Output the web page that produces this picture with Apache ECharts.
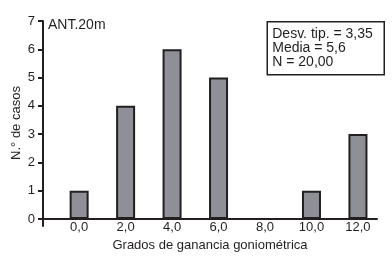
<!DOCTYPE html>
<html><head><meta charset="utf-8">
<script src="https://cdn.jsdelivr.net/npm/echarts@6/dist/echarts.min.js"></script>
<style>html,body{margin:0;padding:0;background:#fff}#c{width:392px;height:257px}</style>
</head><body><div id="c"></div>
<script>
const categories = [0, 2, 4, 6, 8, 10, 12];
const counts = [1, 4, 6, 5, 0, 1, 3];
const yTicks = [0, 1, 2, 3, 4, 5, 6, 7];
const statsLines = ['Desv. tip. = 3,35', 'Media = 5,6', 'N = 20,00'];
const panelTitle = 'ANT.20m';
const yName = 'N.° de casos';

const FONT = '"Liberation Sans", Arial, sans-serif';
const chart = echarts.init(document.getElementById('c'), null, {renderer: 'canvas'});
chart.setOption({
  animation: false,
  grid: {left: 43, right: 15, top: 21, bottom: 31, containLabel: false, outerBoundsMode: 'none'},
  xAxis: {
    type: 'value', min: -1.555, max: 12.82,
    splitLine: {show: false},
    axisLine: {onZero: true, lineStyle: {color: '#231f20', width: 2}},
    axisTick: {show: false},
    axisLabel: {customValues: categories, color: '#231f20', fontFamily: FONT, fontSize: 13, margin: -5,
      formatter: v => v.toFixed(1).replace('.', ',')},
    name: 'Grados de ganancia goniométrica', nameLocation: 'middle', nameGap: 13,
    nameTextStyle: {color: '#231f20', fontFamily: FONT, fontSize: 13}
  },
  yAxis: {
    type: 'value', min: -0.25, max: 7,
    splitLine: {show: false},
    axisLine: {show: true, onZero: false, lineStyle: {color: '#231f20', width: 2}},
    axisTick: {show: true, customValues: yTicks, length: 5, lineStyle: {color: '#231f20', width: 2}},
    axisLabel: {customValues: yTicks, color: '#231f20', fontFamily: FONT, fontSize: 13, margin: 8}
  },
  series: [{
    type: 'bar', barWidth: 19,
    data: categories.map((c, i) => [c, counts[i]]).filter(d => d[1] > 0),
    itemStyle: {color: '#8f8f97', borderColor: '#231f20', borderWidth: 2}
  }],
  graphic: [
    {type: 'text', x: 16, y: 123, rotation: Math.PI / 2,
      style: {text: yName, font: '13px ' + FONT, fill: '#231f20', align: 'center', verticalAlign: 'middle'}},
    {type: 'text', left: 48, top: 18, style: {text: panelTitle, font: '14px ' + FONT, fill: '#231f20'}},
    {type: 'group', right: 7, top: 21, children: [
      {type: 'rect', shape: {x: 0, y: 0, width: 117, height: 53}, style: {fill: '#fff', stroke: '#231f20', lineWidth: 1.5}},
      {type: 'text', x: 5, y: 5, style: {text: statsLines.join('\n'), font: '14px ' + FONT, lineHeight: 14, fill: '#231f20'}}
    ]}
  ]
});
</script></body></html>
